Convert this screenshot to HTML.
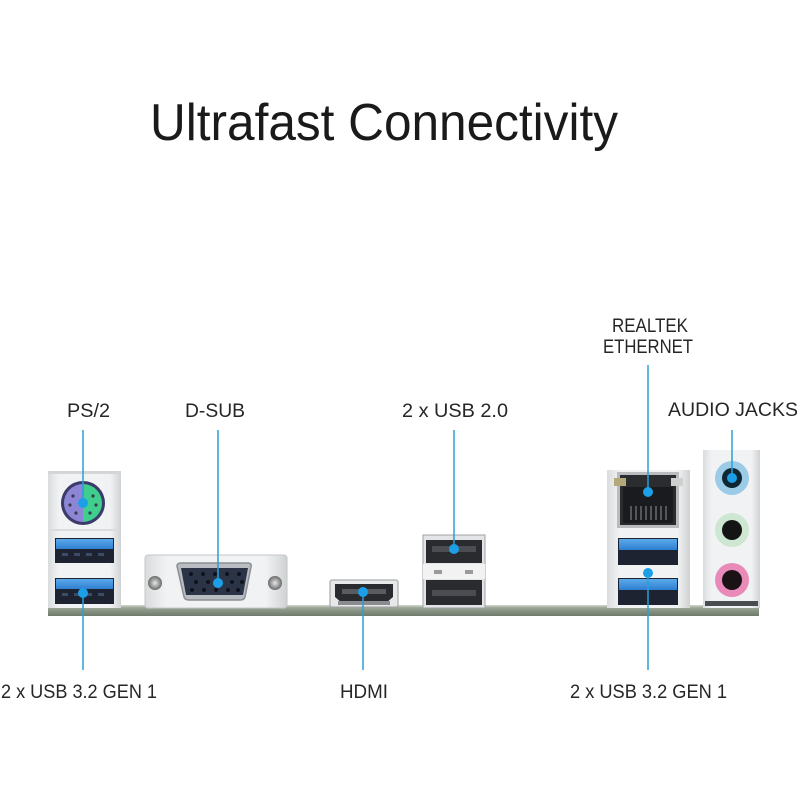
<!DOCTYPE html>
<html><head><meta charset="utf-8"><style>
html,body{margin:0;padding:0;background:#fff;}
svg{display:block;}
text{font-family:"Liberation Sans",sans-serif;fill:#262626;}
</style></head><body>
<svg width="800" height="800" viewBox="0 0 800 800" xmlns="http://www.w3.org/2000/svg">
<defs>
<linearGradient id="panel" x1="0" y1="0" x2="1" y2="0">
<stop offset="0" stop-color="#d9dcdd"/><stop offset="0.15" stop-color="#f1f2f3"/><stop offset="0.85" stop-color="#f1f2f3"/><stop offset="1" stop-color="#cfd2d3"/>
</linearGradient>
<linearGradient id="usbblue" x1="0" y1="0" x2="0" y2="1">
<stop offset="0" stop-color="#5aa9ec"/><stop offset="1" stop-color="#2f7fd0"/>
</linearGradient>
<linearGradient id="strip" x1="0" y1="0" x2="0" y2="1">
<stop offset="0" stop-color="#b6c0b2"/><stop offset="0.4" stop-color="#8f9b8b"/><stop offset="1" stop-color="#6f7a6c"/>
</linearGradient>
<radialGradient id="screw"><stop offset="0" stop-color="#e8e8e8"/><stop offset="0.5" stop-color="#a8a8a8"/><stop offset="1" stop-color="#6a6a6a"/></radialGradient>
</defs>

<!-- Title -->
<text x="150" y="140" font-size="52" textLength="468" lengthAdjust="spacingAndGlyphs" style="fill:#1a1a1a">Ultrafast Connectivity</text>

<!-- Labels top -->
<text x="612" y="332" font-size="19" textLength="76" lengthAdjust="spacingAndGlyphs">REALTEK</text>
<text x="603" y="353" font-size="19" textLength="90" lengthAdjust="spacingAndGlyphs">ETHERNET</text>
<text x="67" y="417" font-size="19" textLength="43" lengthAdjust="spacingAndGlyphs">PS/2</text>
<text x="185" y="417" font-size="19" textLength="60" lengthAdjust="spacingAndGlyphs">D-SUB</text>
<text x="402" y="417" font-size="19" textLength="106" lengthAdjust="spacingAndGlyphs">2 x USB 2.0</text>
<text x="668" y="416" font-size="19" textLength="130" lengthAdjust="spacingAndGlyphs">AUDIO JACKS</text>

<!-- Labels bottom -->
<text x="1" y="698" font-size="19" textLength="156" lengthAdjust="spacingAndGlyphs">2 x USB 3.2 GEN 1</text>
<text x="340" y="698" font-size="19" textLength="48" lengthAdjust="spacingAndGlyphs">HDMI</text>
<text x="570" y="698" font-size="19" textLength="157" lengthAdjust="spacingAndGlyphs">2 x USB 3.2 GEN 1</text>

<!-- Board strip -->
<rect x="48" y="605" width="711" height="11" fill="url(#strip)"/>
<rect x="48" y="605" width="711" height="1.5" fill="#c7cfc4"/>

<!-- PS/2 + USB panel -->
<rect x="48" y="471" width="73" height="137" fill="url(#panel)"/>
<rect x="48" y="471" width="73" height="3" fill="#d3d6d7"/>
<rect x="50" y="529" width="69" height="2" fill="#dadcdd"/>
<circle cx="83" cy="503" r="22" fill="#3b3a6a"/>
<path d="M83 484 A19 19 0 0 0 83 522 Z" fill="#8d86d6"/>
<path d="M83 484 A19 19 0 0 1 83 522 Z" fill="#3fce8e"/>
<g fill="#3a3a4a">
<circle cx="73" cy="496" r="1.6"/><circle cx="93" cy="496" r="1.6"/>
<circle cx="70" cy="505" r="1.6"/><circle cx="96" cy="505" r="1.6"/>
<circle cx="76" cy="513" r="1.6"/><circle cx="90" cy="513" r="1.6"/>
</g>
<!-- USB 3 ports left -->
<rect x="55" y="538" width="59" height="25" fill="#1d2330"/>
<rect x="56" y="539" width="57" height="10" fill="url(#usbblue)"/>
<rect x="55" y="578" width="59" height="26" fill="#1d2330"/>
<rect x="56" y="579" width="57" height="10" fill="url(#usbblue)"/>
<g fill="#3d4c66"><rect x="62" y="553" width="6" height="3"/><rect x="74" y="553" width="6" height="3"/><rect x="86" y="553" width="6" height="3"/><rect x="98" y="553" width="6" height="3"/>
<rect x="62" y="593" width="6" height="3"/><rect x="74" y="593" width="6" height="3"/><rect x="86" y="593" width="6" height="3"/><rect x="98" y="593" width="6" height="3"/></g>

<!-- VGA -->
<rect x="145" y="555" width="142" height="53" rx="3" fill="url(#panel)" stroke="#c4c6c7" stroke-width="1"/>
<circle cx="155" cy="583" r="7" fill="url(#screw)"/>
<circle cx="275" cy="583" r="7" fill="url(#screw)"/>
<path d="M177 566 Q177 563 181 563 L248 563 Q252 563 251 567 L245 597 Q244 600 240 600 L189 600 Q185 600 184 597 Z" fill="#b9bcc0" stroke="#8b8f94" stroke-width="1.5"/>
<path d="M181 568 L248 568 L243 595 L186 595 Z" fill="#2b3346"/>
<g fill="#0e121b">
<circle cx="191" cy="574" r="2"/><circle cx="203" cy="574" r="2"/><circle cx="215" cy="574" r="2"/><circle cx="227" cy="574" r="2"/><circle cx="239" cy="574" r="2"/>
<circle cx="196" cy="582" r="2"/><circle cx="208" cy="582" r="2"/><circle cx="220" cy="582" r="2"/><circle cx="232" cy="582" r="2"/><circle cx="242" cy="582" r="2"/>
<circle cx="192" cy="590" r="2"/><circle cx="204" cy="590" r="2"/><circle cx="216" cy="590" r="2"/><circle cx="228" cy="590" r="2"/><circle cx="238" cy="590" r="2"/>
</g>

<!-- HDMI -->
<rect x="330" y="580" width="68" height="27" rx="2" fill="#e7e8e9" stroke="#9a9c9e" stroke-width="1"/>
<path d="M335 584 L393 584 L393 597 L386 603 L342 603 L335 597 Z" fill="#2a2b2f"/>
<rect x="342" y="589" width="44" height="5" fill="#5a5b60"/>
<rect x="338" y="601" width="52" height="4" fill="#8a8c90"/>

<!-- USB 2.0 stack -->
<rect x="423" y="535" width="62" height="73" fill="#e3e4e6" stroke="#9ea0a3" stroke-width="1"/>
<rect x="426" y="540" width="56" height="23" fill="#2a2b2f"/>
<rect x="432" y="546" width="44" height="6" fill="#4c4d52"/>
<rect x="423" y="564" width="62" height="15" fill="#f2f2f3"/>
<rect x="434" y="570" width="8" height="4" fill="#9a9a9a"/><rect x="465" y="570" width="8" height="4" fill="#9a9a9a"/>
<rect x="426" y="580" width="56" height="25" fill="#2a2b2f"/>
<rect x="432" y="590" width="44" height="6" fill="#4c4d52"/>

<!-- Ethernet + USB panel -->
<rect x="607" y="470" width="83" height="138" fill="url(#panel)"/>
<rect x="617" y="472" width="62" height="56" fill="#b9bbbd"/>
<rect x="620" y="475" width="56" height="50" fill="#2b2c30"/>
<rect x="623" y="487" width="50" height="36" fill="#1a1b1e"/>
<g fill="#55565a"><rect x="630" y="506" width="2" height="14"/><rect x="635" y="506" width="2" height="14"/><rect x="640" y="506" width="2" height="14"/><rect x="645" y="506" width="2" height="14"/><rect x="650" y="506" width="2" height="14"/><rect x="655" y="506" width="2" height="14"/><rect x="660" y="506" width="2" height="14"/><rect x="665" y="506" width="2" height="14"/></g>
<rect x="614" y="478" width="12" height="8" fill="#b4a77a"/>
<rect x="671" y="478" width="12" height="8" fill="#cfcfcf"/>
<rect x="618" y="538" width="60" height="27" fill="#1d2330"/>
<rect x="619" y="539" width="58" height="11" fill="url(#usbblue)"/>
<rect x="618" y="578" width="60" height="27" fill="#1d2330"/>
<rect x="619" y="579" width="58" height="11" fill="url(#usbblue)"/>

<!-- Audio panel -->
<rect x="703" y="450" width="57" height="158" fill="url(#panel)"/>
<rect x="705" y="601" width="53" height="5" fill="#4a4d50"/>
<circle cx="732" cy="478" r="17" fill="#9ccbe8"/><circle cx="732" cy="478" r="10" fill="#0f2633"/>
<circle cx="732" cy="530" r="17" fill="#cde7d3"/><circle cx="732" cy="530" r="10" fill="#141414"/>
<circle cx="732" cy="580" r="17" fill="#e98bb8"/><circle cx="732" cy="580" r="10" fill="#1a1214"/>

<!-- Connector lines -->
<g stroke="#2a9fd6" stroke-width="1.5">
<line x1="83" y1="430" x2="83" y2="503"/>
<line x1="218" y1="430" x2="218" y2="583"/>
<line x1="454" y1="430" x2="454" y2="549"/>
<line x1="648" y1="365" x2="648" y2="492"/>
<line x1="732" y1="430" x2="732" y2="478"/>
<line x1="83" y1="593" x2="83" y2="670"/>
<line x1="363" y1="592" x2="363" y2="670"/>
<line x1="648" y1="573" x2="648" y2="670"/>
</g>
<g fill="#1d9fe8">
<circle cx="83" cy="503" r="5"/>
<circle cx="218" cy="583" r="5"/>
<circle cx="454" cy="549" r="5"/>
<circle cx="648" cy="492" r="5"/>
<circle cx="732" cy="478" r="5"/>
<circle cx="83" cy="593" r="5"/>
<circle cx="363" cy="592" r="5"/>
<circle cx="648" cy="573" r="5"/>
</g>
</svg>
</body></html>
